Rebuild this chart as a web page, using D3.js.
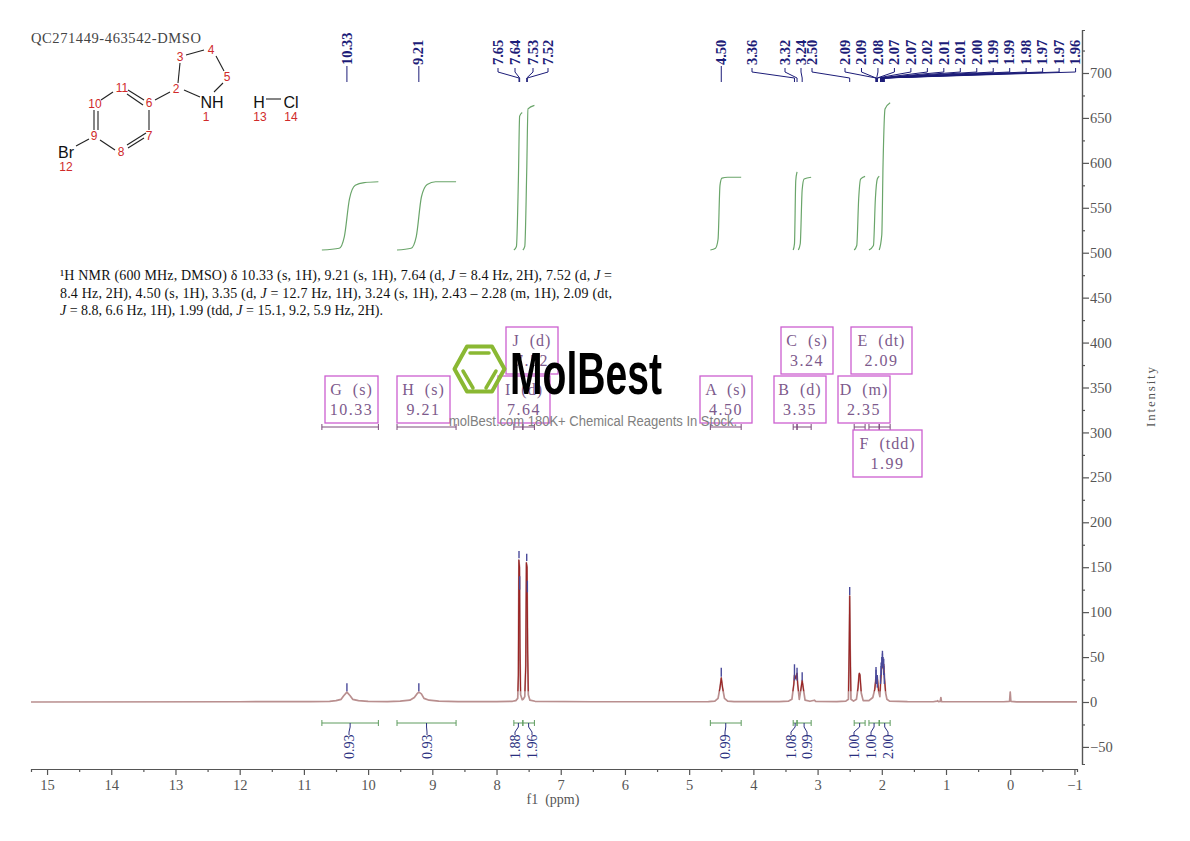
<!doctype html>
<html lang="en">

<head>
  <meta charset="utf-8">
  <title>QC271449-463542-DMSO</title>
  <script src="https://d3js.org/d3.v7.min.js"></script>
  <style>
    html, body { margin: 0; padding: 0; background: #fff; }
    text { font-family: "Liberation Serif", serif; }
    .axis text { font-size: 14.5px; fill: #555; font-family: "Liberation Serif", serif; }
    .axis path, .axis line { stroke: #555; stroke-width: 1.2; }
  </style>
</head>

<body>
  <svg id="plot" width="1190" height="841"></svg>

  <script>
    // spectrum trace
    var specPpm = [15.25, 12, 10.9, 10.6, 10.5, 10.42, 10.38, 10.33, 10.28, 10.24, 10.15, 10, 9.7, 9.5, 9.35, 9.28, 9.24, 9.21, 9.17, 9.13, 9.05, 8.9, 8.6, 8, 7.75, 7.7, 7.67, 7.66, 7.652, 7.642, 7.635, 7.625, 7.6, 7.585, 7.56, 7.545, 7.535, 7.525, 7.515, 7.505, 7.48, 7.4, 6.5, 5, 4.7, 4.6, 4.55, 4.52, 4.5, 4.48, 4.45, 4.4, 4.3, 3.6, 3.45, 3.4, 3.37, 3.36, 3.34, 3.32, 3.31, 3.285, 3.26, 3.24, 3.22, 3.195, 3.12, 3.05, 3.03, 2.7, 2.56, 2.52, 2.508, 2.5, 2.492, 2.48, 2.44, 2.395, 2.37, 2.355, 2.35, 2.34, 2.32, 2.29, 2.2, 2.14, 2.11, 2.09, 2.08, 2.07, 2.05, 2.03, 2.02, 2.01, 2, 1.99, 1.98, 1.97, 1.96, 1.94, 1.92, 1.88, 1.6, 1.2, 1.14, 1.13, 1.12, 1.09, 1.08, 1.07, 0.1, 0.01, 0, -0.01, -0.1, -1.04];
    var specInt = [0, 0.3, 0.4, 0.8, 1.5, 3, 7, 11, 7, 3, 1.5, 0.7, 0.5, 1, 2, 5, 9, 11, 9, 4, 2, 1, 0.5, 0.4, 0.8, 1.5, 4, 30, 158, 150, 60, 8, 2.5, 3, 6, 40, 155, 150, 55, 8, 2, 0.8, 0.3, 0.3, 0.5, 1, 4, 16, 27, 16, 4, 1, 0.5, 0.4, 1, 3, 20, 30, 26, 32, 20, 3, 14, 24, 14, 2, 0.8, 2, 0.6, 0.5, 1, 3, 60, 118, 60, 3, 1, 3, 16, 30, 32, 30, 10, 1.5, 1.5, 5, 14, 28, 26, 28, 12, 6, 20, 30, 40, 45, 38, 42, 28, 10, 3, 1, 0.4, 0.3, 1, 1.5, 0.4, 0.6, 5, 0.5, 0.3, 0.8, 11, 0.8, 0.2, 0.2];

    // peak picks: label, position, blue marker low and high
    var peakLabels = ["10.33", "9.21", "7.65", "7.64", "7.53", "7.52", "4.50", "3.36", "3.32", "3.24", "2.50", "2.09", "2.09", "2.08", "2.07", "2.07", "2.02", "2.01", "2.01", "2.00", "1.99", "1.99", "1.98", "1.97", "1.97", "1.96"];
    var peakPpm = [10.33, 9.21, 7.65, 7.64, 7.53, 7.52, 4.5, 3.36, 3.32, 3.24, 2.5, 2.09, 2.09, 2.08, 2.07, 2.07, 2.02, 2.01, 2.01, 2, 1.99, 1.99, 1.98, 1.97, 1.97, 1.96];
    var peakLow = [12, 12, 160, 125, 157, 122, 28, 24, 24, 24, 119, 20, 24, 20, 20, 16, 20, 30, 30, 38, 40, 40, 38, 36, 30, 20];
    var peakHigh = [21, 21, 168, 140, 165, 135, 38, 42, 38, 33, 128, 39, 36, 30, 30, 26, 30, 40, 44, 50, 57, 54, 50, 48, 40, 32];

    // integrals: range in ppm and value
    var integralStart = [10.72, 9.55, 7.73, 7.59, 4.67, 3.38, 3.32, 2.43, 2.2, 2.04];
    var integralEnd = [9.84, 8.63, 7.59, 7.41, 4.19, 3.32, 3.1, 2.26, 2.04, 1.87];
    var integralValues = ["0.93", "0.93", "1.88", "1.96", "0.99", "1.08", "0.99", "1.00", "1.00", "2.00"];

    // running integral curves, drawn against the intensity scale
    var curvePpm = [
      [10.72, 10.45, 10.37, 10.29, 10.2, 10.06, 9.84],
      [9.55, 9.33, 9.25, 9.17, 9.08, 8.95, 8.63],
      [7.73, 7.69, 7.66, 7.64, 7.6],
      [7.59, 7.56, 7.53, 7.51, 7.41],
      [4.67, 4.59, 4.55, 4.52, 4.49, 4.4, 4.19],
      [3.38, 3.36, 3.34, 3.32],
      [3.3, 3.27, 3.24, 3.21, 3.1],
      [2.43, 2.39, 2.36, 2.33, 2.26],
      [2.2, 2.13, 2.1, 2.07, 2.04],
      [2.04, 2.0, 1.98, 1.95, 1.87]
    ];
    var curveVal = [
      [503, 505, 518, 560, 575, 578, 579],
      [503, 505, 518, 562, 576, 579, 579],
      [503, 507, 580, 652, 656],
      [503, 507, 590, 660, 664],
      [503, 505, 515, 575, 583, 584, 584],
      [503, 510, 580, 590],
      [503, 510, 570, 582, 584],
      [503, 508, 560, 582, 585],
      [503, 508, 560, 582, 585],
      [503, 520, 600, 660, 667]
    ];

    // multiplet boxes
    var boxNames = ["G (s)", "H (s)", "I (d)", "J (d)", "A (s)", "B (d)", "C (s)", "D (m)", "E (dt)", "F (tdd)"];
    var boxShifts = ["10.33", "9.21", "7.64", "7.52", "4.50", "3.35", "3.24", "2.35", "2.09", "1.99"];

    var xTicks = [15, 14, 13, 12, 11, 10, 9, 8, 7, 6, 5, 4, 3, 2, 1, 0, -1];
    var yTicks = [700, 650, 600, 550, 500, 450, 400, 350, 300, 250, 200, 150, 100, 50, 0, -50];

    var svg = d3.select("#plot");

    var x = d3.scaleLinear().domain([15.25, -1.04]).range([31, 1077]);
    var y = d3.scaleLinear().domain([0, 700]).range([702, 73]);

    // axes
    var xMinor = d3.range(-1, 15.5, 0.5).filter(function (d) { return d % 1 !== 0; });
    svg.append("g").attr("class", "axis").attr("transform", "translate(0,769)")
      .call(d3.axisBottom(x).tickValues(xMinor).tickSize(3).tickFormat(""));
    svg.append("g").attr("class", "axis").attr("transform", "translate(0,769)")
      .call(d3.axisBottom(x).tickValues(xTicks).tickSize(6).tickSizeOuter(0).tickPadding(5).tickFormat(d3.format("d")));

    var yAxisScale = y.copy().domain([y.invert(764), y.invert(30)]).range([764, 30]);
    var yMinor = d3.range(-50, 725, 50).map(function (d) { return d + 25; }).filter(function (d) { return d < 745; });
    svg.append("g").attr("class", "axis").attr("transform", "translate(1082,0)")
      .call(d3.axisRight(yAxisScale).tickValues(yMinor).tickSize(3).tickFormat(""));
    svg.append("g").attr("class", "axis").attr("transform", "translate(1082,0)")
      .call(d3.axisRight(yAxisScale).tickValues(yTicks).tickSize(7).tickSizeOuter(0).tickPadding(1).tickFormat(d3.format("d")));

    svg.append("text").attr("x", 553).attr("y", 804).attr("text-anchor", "middle")
      .style("font-size", "14px").style("fill", "#555").attr("xml:space", "preserve").text("f1  (ppm)");
    svg.append("text").attr("transform", "translate(1155,397) rotate(-90)").attr("text-anchor", "middle")
      .style("font-size", "13px").style("fill", "#555").attr("textLength", 60).text("Intensity");

    // integral curves
    var curveLine = d3.line().curve(d3.curveMonotoneX);
    curvePpm.forEach(function (c, i) {
      svg.append("path")
        .attr("d", curveLine(c.map(function (p, j) { return [x(p), y(curveVal[i][j])]; })))
        .attr("fill", "none").attr("stroke", "#6aa56a").attr("stroke-width", 1.2);
    });

    // spectrum: pale trace along the baseline, darker red once it climbs into a peak
    var specLine = d3.line()
      .x(function (d) { return x(d[0]); })
      .y(function (d) { return y(d[1]); });
    var specPoints = specPpm.map(function (p, i) { return [p, specInt[i]]; });
    svg.append("clipPath").attr("id", "stems").append("rect")
      .attr("x", 31).attr("y", 30).attr("width", 1046).attr("height", y(12) - 30);
    svg.append("path").attr("d", specLine(specPoints))
      .attr("fill", "none").attr("stroke", "#b98f8f").attr("stroke-width", 1.7).attr("stroke-linejoin", "round");
    svg.append("path").attr("d", specLine(specPoints)).attr("clip-path", "url(#stems)")
      .attr("fill", "none").attr("stroke", "#9a2424").attr("stroke-width", 1.1).attr("stroke-linejoin", "round");

    peakPpm.forEach(function (p, i) {
      svg.append("line").attr("x1", x(p)).attr("x2", x(p)).attr("y1", y(peakLow[i])).attr("y2", y(peakHigh[i]))
        .attr("stroke", "#4a4a9a").attr("stroke-width", 1.4);
    });

    // peak labels along the top, the crowded ones fan out into even slots
    var firstSlots = [347, 418, 498, 515, 533, 548, 721, 752, 785, 801, 812];
    peakLabels.forEach(function (t, i) {
      var lx = i < firstSlots.length ? firstSlots[i] : 845 + (i - firstSlots.length) * 16.47;
      var px = x(peakPpm[i]);
      svg.append("text").attr("transform", "translate(" + lx + ",65) rotate(-90)")
        .attr("dy", "0.33em")
        .style("font-size", "14.5px").style("font-weight", "bold").style("fill", "#1c1c78").text(t);
      var pts = i < 2 || i === 6
        ? [[px, 66], [px, 82]]
        : [[lx, 68], [lx, 72], [px, 78], [px, 82]];
      svg.append("path").attr("d", d3.line()(pts))
        .attr("fill", "none").attr("stroke", "#1c1c78").attr("stroke-width", 1);
    });

    // integral brackets under the baseline, and the same ranges above the trace
    var valueSlots = [349, 427, 515, 532, 725, 791, 807, 854, 871, 888];
    integralValues.forEach(function (t, i) {
      var a = x(integralStart[i]), b = x(integralEnd[i]), m = (a + b) / 2, lx = valueSlots[i];
      [[723, "#5f9c5f"], [427, "#7a4a7a"]].forEach(function (row) {
        svg.append("path")
          .attr("d", "M" + a + "," + (row[0] - 3) + "V" + (row[0] + 3) + "M" + a + "," + row[0] + "H" + b + "M" + b + "," + (row[0] - 3) + "V" + (row[0] + 3))
          .attr("fill", "none").attr("stroke", row[1]).attr("stroke-width", 1);
      });
      svg.append("path").attr("d", d3.line()([[m, 723], [m, 727], [lx, 732], [lx, 735]]))
        .attr("fill", "none").attr("stroke", "#2a2f80").attr("stroke-width", 1);
      svg.append("text").attr("transform", "translate(" + lx + ",759) rotate(-90)")
        .attr("dy", "0.33em").style("font-size", "14px").style("fill", "#2a2f80").text(t);
    });

    // pink multiplet boxes
    var boxRects = [[325, 376, 53], [397, 376, 53], [498, 376, 52], [506, 327, 52], [700, 376, 52],
      [774, 376, 52], [781, 327, 52], [838, 376, 52], [851, 327, 61], [853, 430, 69]];
    boxNames.forEach(function (t, i) {
      var r = boxRects[i], cx = r[0] + r[2] / 2;
      svg.append("rect").attr("x", r[0]).attr("y", r[1]).attr("width", r[2]).attr("height", 47)
        .attr("fill", "none").attr("stroke", "#cc5fd0").attr("stroke-width", 1.3);
      svg.append("text").attr("x", cx).attr("y", r[1] + 19).attr("text-anchor", "middle").attr("xml:space", "preserve")
        .style("font-size", "16px").style("letter-spacing", "1px").style("fill", "#7d5a8c").text(t.replace(" ", "  "));
      svg.append("text").attr("x", cx).attr("y", r[1] + 39).attr("text-anchor", "middle")
        .style("font-size", "16px").style("letter-spacing", "1.5px").style("fill", "#7d5a8c").text(boxShifts[i]);
    });

    // sample name
    svg.append("text").attr("x", 31).attr("y", 43).attr("textLength", 170)
      .style("font-size", "14.5px").style("fill", "#444").text("QC271449-463542-DMSO");

    // assignment text
    var nmr = svg.append("g").style("font-size", "14px").style("fill", "#111");
    var line1 = nmr.append("text").attr("x", 60).attr("y", 280).attr("textLength", 552);
    line1.append("tspan").text("\u00B9H NMR (600 MHz, DMSO) \u03B4 10.33 (s, 1H), 9.21 (s, 1H), 7.64 (d, ");
    line1.append("tspan").style("font-style", "italic").text("J");
    line1.append("tspan").text(" = 8.4 Hz, 2H), 7.52 (d, ");
    line1.append("tspan").style("font-style", "italic").text("J");
    line1.append("tspan").text(" =");
    var line2 = nmr.append("text").attr("x", 60).attr("y", 298).attr("textLength", 552);
    line2.append("tspan").text("8.4 Hz, 2H), 4.50 (s, 1H), 3.35 (d, ");
    line2.append("tspan").style("font-style", "italic").text("J");
    line2.append("tspan").text(" = 12.7 Hz, 1H), 3.24 (s, 1H), 2.43 \u2013 2.28 (m, 1H), 2.09 (dt,");
    var line3 = nmr.append("text").attr("x", 60).attr("y", 315);
    line3.append("tspan").style("font-style", "italic").text("J");
    line3.append("tspan").text(" = 8.8, 6.6 Hz, 1H), 1.99 (tdd, ");
    line3.append("tspan").style("font-style", "italic").text("J");
    line3.append("tspan").text(" = 15.1, 9.2, 5.9 Hz, 2H).");

    // molecule
    var bonds = [
      [178, 83, 180, 63], [186, 55, 204, 50], [216, 56, 224, 71], [223, 83, 214, 92],
      [184, 90, 200, 97], [170, 92, 155, 100], [149, 110, 149, 130],
      [144, 138, 128, 148], [146, 133, 127, 145], [115, 150, 100, 140],
      [94, 110, 94, 130], [98, 111, 98, 130], [101, 100, 113, 92],
      [128, 90, 144, 100], [127, 94, 143, 105], [89, 139, 76, 146], [266, 99, 281, 99]
    ];
    bonds.forEach(function (b) {
      svg.append("line").attr("x1", b[0]).attr("y1", b[1]).attr("x2", b[2]).attr("y2", b[3])
        .attr("stroke", "#222").attr("stroke-width", 1.1);
    });
    var atoms = [["NH", 212, 108], ["Br", 66, 158], ["H", 259, 108], ["Cl", 291, 108]];
    atoms.forEach(function (a) {
      svg.append("text").attr("x", a[1]).attr("y", a[2]).attr("text-anchor", "middle")
        .style("font-family", "'Liberation Sans', sans-serif").style("font-size", "16px").style("fill", "#111").text(a[0]);
    });
    var numbers = [["1", 206, 117], ["2", 176, 89], ["3", 180, 57], ["4", 211, 50], ["5", 227, 77], ["6", 149, 103], ["7", 149, 136],
      ["8", 121, 152], ["9", 94, 136], ["10", 95, 104], ["11", 122, 88], ["12", 66, 167], ["13", 260, 117], ["14", 291, 117]];
    numbers.forEach(function (a) {
      svg.append("text").attr("x", a[1]).attr("y", a[2] + 4).attr("text-anchor", "middle")
        .style("font-family", "'Liberation Sans', sans-serif").style("font-size", "12px").style("fill", "#d02a2a").text(a[0]);
    });

    // watermark on top of everything
    var hex = [[454.5, 369], [467, 346.5], [492, 346.5], [504.5, 369], [492, 391.5], [467, 391.5]];
    svg.append("path").attr("d", d3.line()(hex) + "Z")
      .attr("fill", "none").attr("stroke", "#8ab833").attr("stroke-width", 4).attr("stroke-linejoin", "round");
    [[470, 353, 489, 353], [463, 371, 473, 388], [496, 371, 486, 388]].forEach(function (b) {
      svg.append("line").attr("x1", b[0]).attr("y1", b[1]).attr("x2", b[2]).attr("y2", b[3])
        .attr("stroke", "#8ab833").attr("stroke-width", 3.5).attr("stroke-linecap", "round");
    });
    svg.append("text").attr("x", 510).attr("y", 394).attr("textLength", 152).attr("lengthAdjust", "spacingAndGlyphs")
      .style("font-family", "'Liberation Sans', sans-serif").style("font-weight", "bold").style("font-size", "59px").style("fill", "#000").text("MolBest");
    svg.append("text").attr("x", 449).attr("y", 426).attr("textLength", 288).attr("lengthAdjust", "spacingAndGlyphs")
      .style("font-family", "'Liberation Sans', sans-serif").style("font-size", "14px").style("fill", "#808080").text("molBest.com 180K+ Chemical Reagents In Stock.");
  </script>
</body>

</html>
